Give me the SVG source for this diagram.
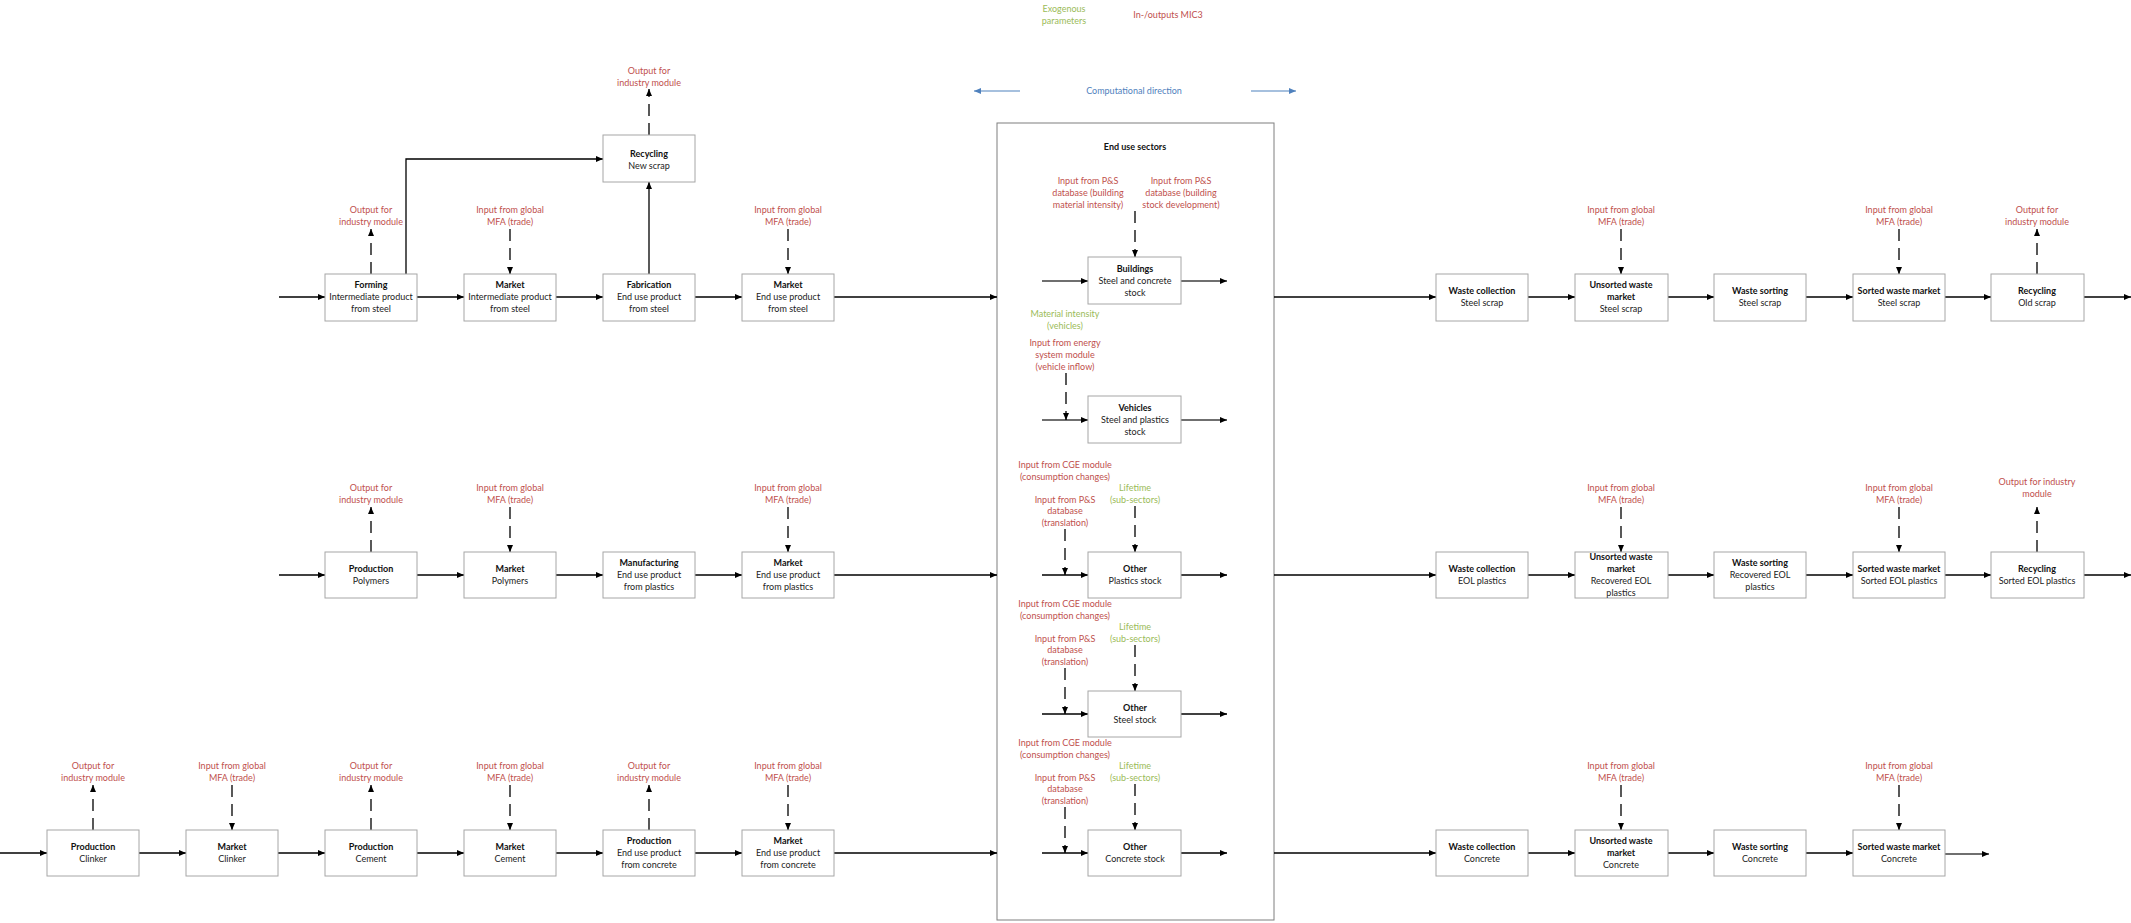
<svg xmlns="http://www.w3.org/2000/svg" width="2131" height="923" viewBox="0 0 2131 923">
<style>
text{font-family:Lato,"Open Sans","Liberation Sans",sans-serif;font-size:9px;text-anchor:middle}
.b{font-weight:bold;fill:#111}
.t{fill:#222}
.r{fill:#C0504D}
.g{fill:#9BBB59}
.bl{fill:#4F81BD}
.box{fill:#fff;stroke:#A6A6A6;stroke-width:1}
.ln{stroke:#000;stroke-width:1.3;fill:none}
.gl{stroke:#6f6f6f;stroke-width:2;fill:none}
.ds{stroke:#000;stroke-width:1.3;fill:none;stroke-dasharray:12 7}
.bln{stroke:#4F81BD;stroke-width:1.2;fill:none}
</style>
<defs>
<marker id="a" markerWidth="7" markerHeight="6" refX="7" refY="3" orient="auto" markerUnits="userSpaceOnUse"><path d="M0,0L7,3L0,6z" fill="#000"/></marker>
<marker id="ab" markerWidth="7" markerHeight="6" refX="7" refY="3" orient="auto" markerUnits="userSpaceOnUse"><path d="M0,0L7,3L0,6z" fill="#4F81BD"/></marker>
</defs>

<g id="legend">
<text class="g" x="1064" y="12">Exogenous</text>
<text class="g" x="1064" y="24">parameters</text>
<text class="r" x="1168" y="18">In-/outputs MIC3</text>
<text class="bl" x="1134" y="94">Computational direction</text>
</g>

<g id="enduse">
<rect x="997" y="123" width="277" height="797" fill="none" stroke="#7f7f7f" stroke-width="1"/>
<text class="b" x="1135" y="150">End use sectors</text>
</g>

<g id="connectors">
<!-- computational direction -->
<line class="bln" x1="1020" y1="91" x2="974" y2="91" marker-end="url(#ab)"/>
<line class="bln" x1="1251" y1="91" x2="1296" y2="91" marker-end="url(#ab)"/>
<!-- row 1 -->
<line class="ln" x1="279" y1="297" x2="325" y2="297" marker-end="url(#a)"/>
<line class="ln" x1="417" y1="297" x2="464" y2="297" marker-end="url(#a)"/>
<line class="ln" x1="556" y1="297" x2="603" y2="297" marker-end="url(#a)"/>
<line class="ln" x1="695" y1="297" x2="742" y2="297" marker-end="url(#a)"/>
<line class="ln" x1="834" y1="297" x2="997" y2="297" marker-end="url(#a)"/>
<line class="ln" x1="1274" y1="297" x2="1436" y2="297" marker-end="url(#a)"/>
<line class="ln" x1="1528" y1="297" x2="1575" y2="297" marker-end="url(#a)"/>
<line class="ln" x1="1668" y1="297" x2="1714" y2="297" marker-end="url(#a)"/>
<line class="ln" x1="1806" y1="297" x2="1853" y2="297" marker-end="url(#a)"/>
<line class="ln" x1="1945" y1="297" x2="1991" y2="297" marker-end="url(#a)"/>
<line class="ln" x1="2084" y1="297" x2="2131" y2="297" marker-end="url(#a)"/>
<polyline class="ln" points="406,274 406,159 603,159" marker-end="url(#a)"/>
<line class="ln" x1="649" y1="274" x2="649" y2="182" marker-end="url(#a)"/>
<line class="ds" x1="649" y1="135" x2="649" y2="89" marker-end="url(#a)"/>
<line class="ds" x1="371" y1="274" x2="371" y2="229" marker-end="url(#a)"/>
<line class="ds" x1="510" y1="229" x2="510" y2="274" marker-end="url(#a)"/>
<line class="ds" x1="788" y1="229" x2="788" y2="274" marker-end="url(#a)"/>
<line class="ds" x1="1621" y1="229" x2="1621" y2="274" marker-end="url(#a)"/>
<line class="ds" x1="1899" y1="229" x2="1899" y2="274" marker-end="url(#a)"/>
<line class="ds" x1="2037" y1="274" x2="2037" y2="229" marker-end="url(#a)"/>
<!-- end use internal -->
<line class="gl" x1="1042" y1="281" x2="1088" y2="281" marker-end="url(#a)"/>
<line class="gl" x1="1181" y1="281" x2="1227" y2="281" marker-end="url(#a)"/>
<line class="ds" x1="1135" y1="211" x2="1135" y2="257" marker-end="url(#a)"/>
<line class="gl" x1="1042" y1="420" x2="1088" y2="420" marker-end="url(#a)"/>
<line class="gl" x1="1181" y1="420" x2="1227" y2="420" marker-end="url(#a)"/>
<line class="ds" x1="1066" y1="373" x2="1066" y2="420" marker-end="url(#a)"/>
<line class="ln" x1="1042" y1="575" x2="1088" y2="575" marker-end="url(#a)"/>
<line class="ln" x1="1181" y1="575" x2="1227" y2="575" marker-end="url(#a)"/>
<line class="ds" x1="1065" y1="529" x2="1065" y2="575" marker-end="url(#a)"/>
<line class="ds" x1="1135" y1="506" x2="1135" y2="552" marker-end="url(#a)"/>
<line class="ln" x1="1042" y1="714" x2="1088" y2="714" marker-end="url(#a)"/>
<line class="ln" x1="1181" y1="714" x2="1227" y2="714" marker-end="url(#a)"/>
<line class="ds" x1="1065" y1="668" x2="1065" y2="714" marker-end="url(#a)"/>
<line class="ds" x1="1135" y1="645" x2="1135" y2="691" marker-end="url(#a)"/>
<line class="ln" x1="1042" y1="853" x2="1088" y2="853" marker-end="url(#a)"/>
<line class="ln" x1="1181" y1="853" x2="1227" y2="853" marker-end="url(#a)"/>
<line class="ds" x1="1065" y1="807" x2="1065" y2="853" marker-end="url(#a)"/>
<line class="ds" x1="1135" y1="784" x2="1135" y2="830" marker-end="url(#a)"/>
<!-- row 2 -->
<line class="ln" x1="279" y1="575" x2="325" y2="575" marker-end="url(#a)"/>
<line class="ln" x1="417" y1="575" x2="464" y2="575" marker-end="url(#a)"/>
<line class="ln" x1="556" y1="575" x2="603" y2="575" marker-end="url(#a)"/>
<line class="ln" x1="695" y1="575" x2="742" y2="575" marker-end="url(#a)"/>
<line class="ln" x1="834" y1="575" x2="997" y2="575" marker-end="url(#a)"/>
<line class="ln" x1="1274" y1="575" x2="1436" y2="575" marker-end="url(#a)"/>
<line class="ln" x1="1528" y1="575" x2="1575" y2="575" marker-end="url(#a)"/>
<line class="ln" x1="1668" y1="575" x2="1714" y2="575" marker-end="url(#a)"/>
<line class="ln" x1="1806" y1="575" x2="1853" y2="575" marker-end="url(#a)"/>
<line class="ln" x1="1945" y1="575" x2="1991" y2="575" marker-end="url(#a)"/>
<line class="ln" x1="2084" y1="575" x2="2131" y2="575" marker-end="url(#a)"/>
<line class="ds" x1="371" y1="552" x2="371" y2="507" marker-end="url(#a)"/>
<line class="ds" x1="510" y1="507" x2="510" y2="552" marker-end="url(#a)"/>
<line class="ds" x1="788" y1="507" x2="788" y2="552" marker-end="url(#a)"/>
<line class="ds" x1="1621" y1="507" x2="1621" y2="552" marker-end="url(#a)"/>
<line class="ds" x1="1899" y1="507" x2="1899" y2="552" marker-end="url(#a)"/>
<line class="ds" x1="2037" y1="552" x2="2037" y2="507" marker-end="url(#a)"/>
<!-- row 3 -->
<line class="ln" x1="0" y1="853" x2="47" y2="853" marker-end="url(#a)"/>
<line class="ln" x1="139" y1="853" x2="186" y2="853" marker-end="url(#a)"/>
<line class="ln" x1="278" y1="853" x2="325" y2="853" marker-end="url(#a)"/>
<line class="ln" x1="417" y1="853" x2="464" y2="853" marker-end="url(#a)"/>
<line class="ln" x1="556" y1="853" x2="603" y2="853" marker-end="url(#a)"/>
<line class="ln" x1="695" y1="853" x2="742" y2="853" marker-end="url(#a)"/>
<line class="ln" x1="834" y1="853" x2="997" y2="853" marker-end="url(#a)"/>
<line class="ln" x1="1274" y1="853" x2="1436" y2="853" marker-end="url(#a)"/>
<line class="ln" x1="1528" y1="853" x2="1575" y2="853" marker-end="url(#a)"/>
<line class="ln" x1="1668" y1="853" x2="1714" y2="853" marker-end="url(#a)"/>
<line class="ln" x1="1806" y1="853" x2="1853" y2="853" marker-end="url(#a)"/>
<line class="gl" x1="1945" y1="854" x2="1989" y2="854" marker-end="url(#a)"/>
<line class="ds" x1="93" y1="830" x2="93" y2="785" marker-end="url(#a)"/>
<line class="ds" x1="232" y1="785" x2="232" y2="830" marker-end="url(#a)"/>
<line class="ds" x1="371" y1="830" x2="371" y2="785" marker-end="url(#a)"/>
<line class="ds" x1="510" y1="785" x2="510" y2="830" marker-end="url(#a)"/>
<line class="ds" x1="649" y1="830" x2="649" y2="785" marker-end="url(#a)"/>
<line class="ds" x1="788" y1="785" x2="788" y2="830" marker-end="url(#a)"/>
<line class="ds" x1="1621" y1="785" x2="1621" y2="830" marker-end="url(#a)"/>
<line class="ds" x1="1899" y1="785" x2="1899" y2="830" marker-end="url(#a)"/>
</g>

<!-- annotations -->
<g id="annotations">
<text class="r" x="649" y="74">Output for</text><text class="r" x="649" y="86">industry module</text>
<text class="r" x="371" y="213">Output for</text><text class="r" x="371" y="225">industry module</text>
<text class="r" x="510" y="213">Input from global</text><text class="r" x="510" y="225">MFA (trade)</text>
<text class="r" x="788" y="213">Input from global</text><text class="r" x="788" y="225">MFA (trade)</text>
<text class="r" x="1621" y="213">Input from global</text><text class="r" x="1621" y="225">MFA (trade)</text>
<text class="r" x="1899" y="213">Input from global</text><text class="r" x="1899" y="225">MFA (trade)</text>
<text class="r" x="2037" y="213">Output for</text><text class="r" x="2037" y="225">industry module</text>

<text class="r" x="1088" y="184">Input from P&amp;S</text><text class="r" x="1088" y="196">database (building</text><text class="r" x="1088" y="208">material intensity)</text>
<text class="r" x="1181" y="184">Input from P&amp;S</text><text class="r" x="1181" y="196">database (building</text><text class="r" x="1181" y="208">stock development)</text>
<text class="g" x="1065" y="317">Material intensity</text><text class="g" x="1065" y="329">(vehicles)</text>
<text class="r" x="1065" y="346">Input from energy</text><text class="r" x="1065" y="358">system module</text><text class="r" x="1065" y="370">(vehicle inflow)</text>

<text class="r" x="1065" y="468">Input from CGE module</text><text class="r" x="1065" y="480">(consumption changes)</text>
<text class="g" x="1135" y="491">Lifetime</text><text class="g" x="1135" y="503">(sub-sectors)</text>
<text class="r" x="1065" y="503">Input from P&amp;S</text><text class="r" x="1065" y="514">database</text><text class="r" x="1065" y="526">(translation)</text>

<text class="r" x="1065" y="607">Input from CGE module</text><text class="r" x="1065" y="619">(consumption changes)</text>
<text class="g" x="1135" y="630">Lifetime</text><text class="g" x="1135" y="642">(sub-sectors)</text>
<text class="r" x="1065" y="642">Input from P&amp;S</text><text class="r" x="1065" y="653">database</text><text class="r" x="1065" y="665">(translation)</text>

<text class="r" x="1065" y="746">Input from CGE module</text><text class="r" x="1065" y="758">(consumption changes)</text>
<text class="g" x="1135" y="769">Lifetime</text><text class="g" x="1135" y="781">(sub-sectors)</text>
<text class="r" x="1065" y="781">Input from P&amp;S</text><text class="r" x="1065" y="792">database</text><text class="r" x="1065" y="804">(translation)</text>

<text class="r" x="371" y="491">Output for</text><text class="r" x="371" y="503">industry module</text>
<text class="r" x="510" y="491">Input from global</text><text class="r" x="510" y="503">MFA (trade)</text>
<text class="r" x="788" y="491">Input from global</text><text class="r" x="788" y="503">MFA (trade)</text>
<text class="r" x="1621" y="491">Input from global</text><text class="r" x="1621" y="503">MFA (trade)</text>
<text class="r" x="1899" y="491">Input from global</text><text class="r" x="1899" y="503">MFA (trade)</text>
<text class="r" x="2037" y="485">Output for industry</text><text class="r" x="2037" y="497">module</text>

<text class="r" x="93" y="769">Output for</text><text class="r" x="93" y="781">industry module</text>
<text class="r" x="232" y="769">Input from global</text><text class="r" x="232" y="781">MFA (trade)</text>
<text class="r" x="371" y="769">Output for</text><text class="r" x="371" y="781">industry module</text>
<text class="r" x="510" y="769">Input from global</text><text class="r" x="510" y="781">MFA (trade)</text>
<text class="r" x="649" y="769">Output for</text><text class="r" x="649" y="781">industry module</text>
<text class="r" x="788" y="769">Input from global</text><text class="r" x="788" y="781">MFA (trade)</text>
<text class="r" x="1621" y="769">Input from global</text><text class="r" x="1621" y="781">MFA (trade)</text>
<text class="r" x="1899" y="769">Input from global</text><text class="r" x="1899" y="781">MFA (trade)</text>
</g>

<!-- row 1 nodes -->
<g id="recycling-new-scrap"><rect class="box" x="603" y="135" width="92" height="47"/><text class="b" x="649" y="157">Recycling</text><text class="t" x="649" y="169">New scrap</text></g>
<g id="forming"><rect class="box" x="325" y="274" width="92" height="47"/><text class="b" x="371" y="288">Forming</text><text class="t" x="371" y="300">Intermediate product</text><text class="t" x="371" y="312">from steel</text></g>
<g id="market-int-steel"><rect class="box" x="464" y="274" width="92" height="47"/><text class="b" x="510" y="288">Market</text><text class="t" x="510" y="300">Intermediate product</text><text class="t" x="510" y="312">from steel</text></g>
<g id="fabrication"><rect class="box" x="603" y="274" width="92" height="47"/><text class="b" x="649" y="288">Fabrication</text><text class="t" x="649" y="300">End use product</text><text class="t" x="649" y="312">from steel</text></g>
<g id="market-end-steel"><rect class="box" x="742" y="274" width="92" height="47"/><text class="b" x="788" y="288">Market</text><text class="t" x="788" y="300">End use product</text><text class="t" x="788" y="312">from steel</text></g>
<g id="waste-collection-steel"><rect class="box" x="1436" y="274" width="92" height="47"/><text class="b" x="1482" y="294">Waste collection</text><text class="t" x="1482" y="306">Steel scrap</text></g>
<g id="unsorted-steel"><rect class="box" x="1575" y="274" width="93" height="47"/><text class="b" x="1621" y="288">Unsorted waste</text><text class="b" x="1621" y="300">market</text><text class="t" x="1621" y="312">Steel scrap</text></g>
<g id="waste-sorting-steel"><rect class="box" x="1714" y="274" width="92" height="47"/><text class="b" x="1760" y="294">Waste sorting</text><text class="t" x="1760" y="306">Steel scrap</text></g>
<g id="sorted-steel"><rect class="box" x="1853" y="274" width="92" height="47"/><text class="b" x="1899" y="294">Sorted waste market</text><text class="t" x="1899" y="306">Steel scrap</text></g>
<g id="recycling-old-scrap"><rect class="box" x="1991" y="274" width="93" height="47"/><text class="b" x="2037" y="294">Recycling</text><text class="t" x="2037" y="306">Old scrap</text></g>

<!-- end use nodes -->
<g id="buildings"><rect class="box" x="1088" y="257" width="93" height="47"/><text class="b" x="1135" y="272">Buildings</text><text class="t" x="1135" y="284">Steel and concrete</text><text class="t" x="1135" y="296">stock</text></g>
<g id="vehicles"><rect class="box" x="1088" y="396" width="93" height="47"/><text class="b" x="1135" y="411">Vehicles</text><text class="t" x="1135" y="423">Steel and plastics</text><text class="t" x="1135" y="435">stock</text></g>
<g id="other-plastics"><rect class="box" x="1088" y="552" width="93" height="46"/><text class="b" x="1135" y="572">Other</text><text class="t" x="1135" y="584">Plastics stock</text></g>
<g id="other-steel"><rect class="box" x="1088" y="691" width="93" height="46"/><text class="b" x="1135" y="711">Other</text><text class="t" x="1135" y="723">Steel stock</text></g>
<g id="other-concrete"><rect class="box" x="1088" y="830" width="93" height="46"/><text class="b" x="1135" y="850">Other</text><text class="t" x="1135" y="862">Concrete stock</text></g>

<!-- row 2 nodes -->
<g id="production-polymers"><rect class="box" x="325" y="552" width="92" height="46"/><text class="b" x="371" y="572">Production</text><text class="t" x="371" y="584">Polymers</text></g>
<g id="market-polymers"><rect class="box" x="464" y="552" width="92" height="46"/><text class="b" x="510" y="572">Market</text><text class="t" x="510" y="584">Polymers</text></g>
<g id="manufacturing"><rect class="box" x="603" y="552" width="92" height="46"/><text class="b" x="649" y="566">Manufacturing</text><text class="t" x="649" y="578">End use product</text><text class="t" x="649" y="590">from plastics</text></g>
<g id="market-end-plastics"><rect class="box" x="742" y="552" width="92" height="46"/><text class="b" x="788" y="566">Market</text><text class="t" x="788" y="578">End use product</text><text class="t" x="788" y="590">from plastics</text></g>
<g id="waste-collection-plastics"><rect class="box" x="1436" y="552" width="92" height="46"/><text class="b" x="1482" y="572">Waste collection</text><text class="t" x="1482" y="584">EOL plastics</text></g>
<g id="unsorted-plastics"><rect class="box" x="1575" y="552" width="93" height="46"/><text class="b" x="1621" y="560">Unsorted waste</text><text class="b" x="1621" y="572">market</text><text class="t" x="1621" y="584">Recovered EOL</text><text class="t" x="1621" y="596">plastics</text></g>
<g id="waste-sorting-plastics"><rect class="box" x="1714" y="552" width="92" height="46"/><text class="b" x="1760" y="566">Waste sorting</text><text class="t" x="1760" y="578">Recovered EOL</text><text class="t" x="1760" y="590">plastics</text></g>
<g id="sorted-plastics"><rect class="box" x="1853" y="552" width="92" height="46"/><text class="b" x="1899" y="572">Sorted waste market</text><text class="t" x="1899" y="584">Sorted EOL plastics</text></g>
<g id="recycling-plastics"><rect class="box" x="1991" y="552" width="93" height="46"/><text class="b" x="2037" y="572">Recycling</text><text class="t" x="2037" y="584">Sorted EOL plastics</text></g>

<!-- row 3 nodes -->
<g id="production-clinker"><rect class="box" x="47" y="830" width="92" height="46"/><text class="b" x="93" y="850">Production</text><text class="t" x="93" y="862">Clinker</text></g>
<g id="market-clinker"><rect class="box" x="186" y="830" width="92" height="46"/><text class="b" x="232" y="850">Market</text><text class="t" x="232" y="862">Clinker</text></g>
<g id="production-cement"><rect class="box" x="325" y="830" width="92" height="46"/><text class="b" x="371" y="850">Production</text><text class="t" x="371" y="862">Cement</text></g>
<g id="market-cement"><rect class="box" x="464" y="830" width="92" height="46"/><text class="b" x="510" y="850">Market</text><text class="t" x="510" y="862">Cement</text></g>
<g id="production-concrete"><rect class="box" x="603" y="830" width="92" height="46"/><text class="b" x="649" y="844">Production</text><text class="t" x="649" y="856">End use product</text><text class="t" x="649" y="868">from concrete</text></g>
<g id="market-end-concrete"><rect class="box" x="742" y="830" width="92" height="46"/><text class="b" x="788" y="844">Market</text><text class="t" x="788" y="856">End use product</text><text class="t" x="788" y="868">from concrete</text></g>
<g id="waste-collection-concrete"><rect class="box" x="1436" y="830" width="92" height="46"/><text class="b" x="1482" y="850">Waste collection</text><text class="t" x="1482" y="862">Concrete</text></g>
<g id="unsorted-concrete"><rect class="box" x="1575" y="830" width="93" height="46"/><text class="b" x="1621" y="844">Unsorted waste</text><text class="b" x="1621" y="856">market</text><text class="t" x="1621" y="868">Concrete</text></g>
<g id="waste-sorting-concrete"><rect class="box" x="1714" y="830" width="92" height="46"/><text class="b" x="1760" y="850">Waste sorting</text><text class="t" x="1760" y="862">Concrete</text></g>
<g id="sorted-concrete"><rect class="box" x="1853" y="830" width="92" height="46"/><text class="b" x="1899" y="850">Sorted waste market</text><text class="t" x="1899" y="862">Concrete</text></g>
</svg>
